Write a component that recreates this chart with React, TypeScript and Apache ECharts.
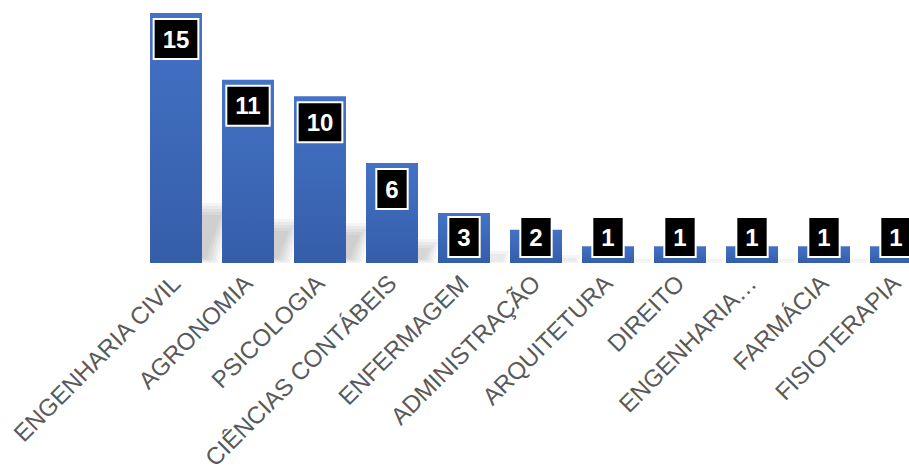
import React, { useEffect, useRef } from "react";
import * as echarts from "echarts";

const categories = [
  "ENGENHARIA CIVIL",
  "AGRONOMIA",
  "PSICOLOGIA",
  "CIÊNCIAS CONTÁBEIS",
  "ENFERMAGEM",
  "ADMINISTRAÇÃO",
  "ARQUITETURA",
  "DIREITO",
  "ENGENHARIA…",
  "FARMÁCIA",
  "FISIOTERAPIA",
];
const values = [15, 11, 10, 6, 3, 2, 1, 1, 1, 1, 1];

export default function App() {
  const ref = useRef<HTMLDivElement>(null);
  useEffect(() => {
    document.body.style.margin = "0";
    const chart = echarts.init(ref.current!, null, { renderer: "svg" });
    const labelBase = {
      show: true,
      color: "#ffffff",
      fontFamily: "Liberation Sans, Arial, sans-serif",
      fontWeight: "bold" as const,
      fontSize: 24,
      lineHeight: 24,
      backgroundColor: "#000000",
      borderColor: "#ffffff",
      borderWidth: 2,
      padding: [7, 8, 7, 8],
    };
    chart.setOption({
      animation: false,
      grid: {
        left: 140,
        width: 792,
        top: 13,
        bottom: 207,
        outerBoundsMode: "none",
        containLabel: false,
      },
      xAxis: {
        type: "category",
        data: categories,
        axisLine: { show: false },
        axisTick: { show: false },
        axisLabel: {
          rotate: 45,
          interval: 0,
          margin: 16,
          color: "#595959",
          fontSize: 24,
          fontFamily: "Liberation Sans, Arial, sans-serif",
        },
      },
      yAxis: {
        type: "value",
        min: 0,
        max: 15,
        show: false,
        splitLine: { show: false },
      },
      series: [
        {
          type: "custom",
          z: 1,
          silent: true,
          data: values.map((v, i) => [i, v]),
          renderItem: (params: any, api: any) => {
            const base = api.coord([api.value(0), 0]);
            const top = api.coord([api.value(0), api.value(1)]);
            const h = base[1] - top[1];
            const sh = h * 0.24;
            const sk = sh * 0.25;
            const x0 = base[0] - 26 + 8;
            const x1 = base[0] + 26 + 16;
            const layers = [];
            for (let k = 0; k < 5; k++) {
              const d = k * 3;
              if (sh - 2 * d < 2) break;
              layers.push({
                type: "polygon",
                shape: {
                  points: [
                    [x0 + d, base[1] - d * 0.4],
                    [x1 - d, base[1] - d * 0.4],
                    [x1 - d + sk, base[1] - sh + d],
                    [x0 + d + sk, base[1] - sh + d],
                  ],
                },
                style: { fill: "rgba(130,130,130,0.085)" },
              });
            }
            return { type: "group", children: layers };
          },
        },
        {
          type: "bar",
          z: 2,
          barWidth: 52,
          data: values.map((v) => ({
            value: v,
            label:
              v >= 6
                ? { ...labelBase, position: "insideTop", distance: 7 }
                : { ...labelBase, position: "insideBottom", distance: 7 },
          })),
          itemStyle: {
            color: new echarts.graphic.LinearGradient(0, 0, 0, 1, [
              { offset: 0, color: "#4472c6" },
              { offset: 1, color: "#355ea9" },
            ]),
          },
        },
      ],
    });
    return () => chart.dispose();
  }, []);
  return <div ref={ref} style={{ width: 909, height: 470 }} />;
}
